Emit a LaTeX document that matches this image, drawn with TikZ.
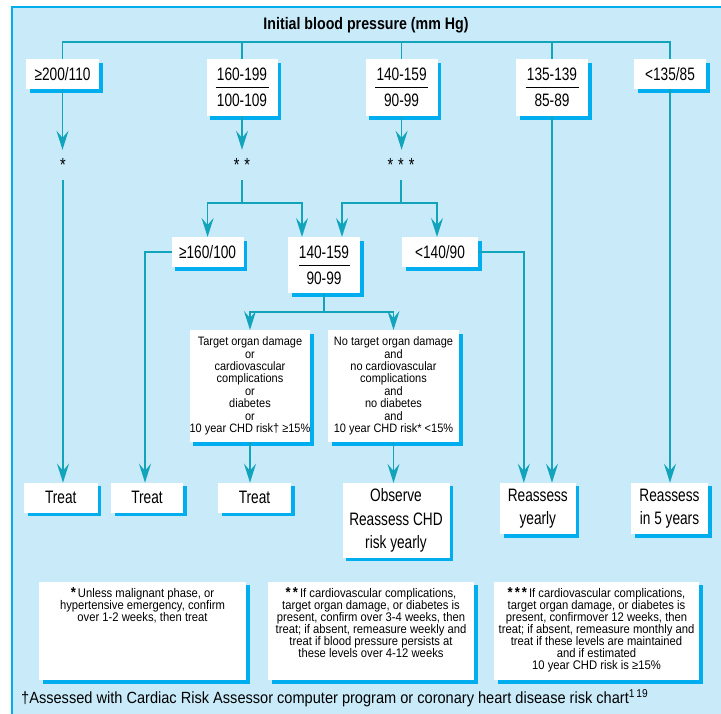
\documentclass[tikz,border=0pt]{standalone}
\usepackage{fontspec}
\setmainfont{Liberation Sans}[FakeStretch=0.76]
\newfontfamily\headfont{Liberation Sans}[FakeStretch=0.85]
\newfontfamily\smallfont{Liberation Sans}[FakeStretch=0.9]
\usepackage{tikz}
\usetikzlibrary{arrows.meta,positioning,shadows}
\definecolor{bpbg}{RGB}{200,234,249}
\definecolor{bpcyan}{RGB}{0,174,239}
\definecolor{bpline}{RGB}{18,164,186}
\newcommand{\tightlines}{\lineskiplimit=-20pt\relax}
\newcommand{\notestar}{{\fontsize{14.5}{12}\selectfont\bfseries *}}
\tikzset{
  % white box with cyan offset shadow
  box/.style={
    fill=white,
    inner sep=0pt,
    outer sep=0pt,
    align=center,
    font=\fontsize{18}{23.3}\selectfont,
    drop shadow={shadow xshift=3.5pt, shadow yshift=-3.5pt, fill=bpcyan, opacity=1}
  },
  % small text of the condition boxes
  condbox/.style={box, font={\smallfont\fontsize{12.2}{12.4}\selectfont\tightlines}},
  % footnote boxes
  notebox/.style={box, font={\smallfont\fontsize{12.5}{12}\selectfont\tightlines}},
  % asterisks between the rows
  stars/.style={
    inner sep=0pt,
    minimum width=30pt,
    minimum height=30pt,
    font=\fontsize{19}{20}\selectfont,
    text height=13pt,
    text depth=-7pt
  },
  % title
  title/.style={font=\headfont\bfseries\fontsize{16.7}{20}\selectfont},
  % plain connector
  conn/.style={draw=bpline, line width=1.6pt},
  % connector with arrow
  arr/.style={conn, -{Stealth[length=19pt, width=12pt, inset=7pt]}},
  % rule inside the two-value boxes
  rule/.style={draw=black, line width=0.8pt},
}

\begin{document}
\begin{tikzpicture}[x=1pt, y=-1pt]
  \useasboundingbox (0,0) rectangle (721,713);
  % Background panel
  \fill[bpbg] (12,7) rectangle (730,720);
  \draw[bpcyan, line width=2pt] (12,720) -- (12,7) -- (730,7);

  % Title and first row
  \node[title] (title) at (366,25) {Initial blood pressure (mm Hg)};
  \node[box, minimum width=73pt, minimum height=30pt] (b200) at (62.5,74) {≥200/110};
  \node[box, minimum width=71pt, minimum height=57pt] (b160) at (242,87.5) {160-199\\[2.7pt]100-109};
  \node[box, minimum width=72pt, minimum height=57pt] (b140) at (401.6,87.5) {140-159\\[2.7pt]90-99};
  \node[box, minimum width=72pt, minimum height=57pt] (b135) at (552,87.5) {135-139\\[2.7pt]85-89};
  \node[box, minimum width=72pt, minimum height=30pt] (blow) at (670,74) {<135/85};
  \draw[rule] ([xshift=-26.5pt]b160.center) -- ([xshift=26.5pt]b160.center);
  \draw[rule] ([xshift=-26.5pt]b140.center) -- ([xshift=26.5pt]b140.center);
  \draw[rule] ([xshift=-26.5pt]b135.center) -- ([xshift=26.5pt]b135.center);

  % Bus under the title
  \coordinate (bus) at (0,42);
  \draw[conn] (b200.north) -- (b200.north |- bus) -- (blow.north |- bus) -- (blow.north);
  \draw[conn] (b160.north) -- (b160.north |- bus);
  \draw[conn] (b140.north) -- (b140.north |- bus);
  \draw[conn] (b135.north) -- (b135.north |- bus);

  % Stars
  \node[stars] (s1) at (63,165) {*};
  \node[stars] (s2) at (242,165) {*\hspace{5pt}*};
  \node[stars] (s3) at (401,165) {*\hspace{5pt}*\hspace{5pt}*};
  \draw[arr] (b200.south) -- (b200.south |- s1.north);
  \draw[arr] (b160.south) -- (b160.south |- s2.north);
  \draw[arr] (b140.south) -- (b140.south |- s3.north);

  % Second row
  \node[box, minimum width=72pt, minimum height=30pt] (m160) at (207.6,252) {≥160/100};
  \node[box, minimum width=72pt, minimum height=56pt] (m140) at (324,265) {140-159\\[2.7pt]90-99};
  \node[box, minimum width=76pt, minimum height=30pt] (mlow) at (440,252) {<140/90};
  \draw[rule] ([xshift=-25.5pt]m140.center) -- ([xshift=25.5pt]m140.center);
  \draw[conn] (s2.south) -- ++(0,23) coordinate (j2);
  \draw[arr] (j2) -| (m160.north);
  \draw[arr] (j2) -| ([xshift=-22pt]m140.north);
  \draw[conn] (s3.south) -- ++(0,23) coordinate (j3);
  \draw[arr] (j3) -| ([xshift=18pt]m140.north);
  \draw[arr] (j3) -| ([xshift=-3pt]mlow.north);

  % Conditions
  \node[condbox, minimum width=119pt, minimum height=112pt] (cyes) at (250,386)
    {Target organ damage\\or\\cardiovascular\\complications\\or\\diabetes\\or\\10 year CHD risk† ≥15\%};
  \node[condbox, minimum width=131pt, minimum height=112pt] (cno) at (393.5,386)
    {No target organ damage\\and\\no cardiovascular\\complications\\and\\no diabetes\\and\\10 year CHD risk* <15\%};
  \draw[conn] (m140.south) -- ++(0,19) coordinate (j4);
  \draw[arr] (j4) -| (cyes.north);
  \draw[arr] (j4) -| (cno.north);

  % Outcomes
  \node[box, minimum width=73.5pt, minimum height=30pt] (t1) at (60.8,497.7) {Treat};
  \node[box, minimum width=72pt, minimum height=30pt] (t2) at (147,497.7) {Treat};
  \node[box, minimum width=73pt, minimum height=30pt] (t3) at (254.5,497.7) {Treat};
  \node[box, minimum width=107pt, minimum height=75pt] (obs) at (396,520.4) {Observe\\Reassess CHD\\risk yearly};
  \node[box, minimum width=75.6pt, minimum height=51.3pt] (ry) at (537.8,508.4) {Reassess\\yearly};
  \node[box, minimum width=77pt, minimum height=51.3pt] (r5) at (669.5,508.4) {Reassess\\in 5 years};
  \draw[arr] (s1.south) -- (s1.south |- t1.north);
  \draw[arr] (m160.west) -| ([xshift=-2pt]t2.north);
  \draw[arr] (cyes.south) -- (cyes.south |- t3.north);
  \draw[arr] (cno.south) -- (cno.south |- obs.north);
  \draw[arr] (mlow.east) -| ([xshift=-14pt]ry.north);
  \draw[arr] (b135.south) -- (b135.south |- ry.north);
  \draw[arr] (blow.south) -- (blow.south |- r5.north);

  % Footnotes
  \node[notebox, minimum width=207pt, minimum height=98.3pt] (n1) at (142.5,631)
    {\parbox[c][86pt][t]{200pt}{\centering\notestar\,Unless malignant phase, or\\hypertensive emergency, confirm\\over 1-2 weeks, then treat}};
  \node[notebox, minimum width=206pt, minimum height=98.3pt] (n2) at (371,631)
    {\parbox[c][86pt][t]{200pt}{\centering\notestar\,\notestar\,If cardiovascular complications,\\target organ damage, or diabetes is\\present, confirm over 3-4 weeks, then\\treat; if absent, remeasure weekly and\\treat if blood pressure persists at\\these levels over 4-12 weeks}};
  \node[notebox, minimum width=205pt, minimum height=98.3pt] (n3) at (596.5,631)
    {\parbox[c][86pt][t]{200pt}{\centering\notestar\,\notestar\,\notestar\,If cardiovascular complications,\\target organ damage, or diabetes is\\present, confirmover 12 weeks, then\\treat; if absent, remeasure monthly and\\treat if these levels are maintained\\and if estimated\\10 year CHD risk is ≥15\%}};
  \node[anchor=west, inner sep=0pt, font=\smallfont\fontsize{16.2}{20}\selectfont] (src) at (21,698)
    {†Assessed with Cardiac Risk Assessor computer program or coronary heart disease risk chart\textsuperscript{1\,19}};
\end{tikzpicture}
\end{document}
